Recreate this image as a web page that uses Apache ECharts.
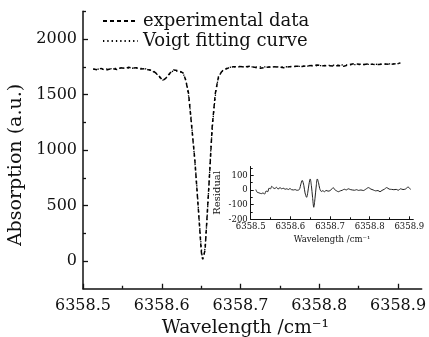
<!DOCTYPE html>
<html><head><meta charset="utf-8">
<script src="https://cdn.jsdelivr.net/npm/echarts@6/dist/echarts.min.js"></script>
<style>html,body{margin:0;padding:0;background:#fff}#c{width:429px;height:337px}</style>
</head><body><div id="c"></div>
<script>
// ---- data ----
const expWavelength = [6358.513,6358.518,6358.523,6358.528,6358.533,6358.538,6358.543,6358.548,6358.553,6358.558,6358.563,6358.568,6358.573,6358.578,6358.583,6358.588,6358.593,6358.598,6358.601,6358.605,6358.610,6358.615,6358.620,6358.624,6358.627,6358.630,6358.634,6358.638,6358.642,6358.645,6358.648,6358.650,6358.651,6358.652,6358.653,6358.655,6358.658,6358.661,6358.664,6358.668,6358.672,6358.676,6358.680,6358.685,6358.691,6358.698,6358.705,6358.712,6358.718,6358.725,6358.732,6358.740,6358.748,6358.755,6358.762,6358.770,6358.778,6358.785,6358.792,6358.797,6358.804,6358.811,6358.818,6358.825,6358.831,6358.838,6358.844,6358.851,6358.857,6358.861,6358.868,6358.875,6358.882,6358.889,6358.896,6358.903];
const expAbsorption = [1730,1722,1735,1718,1728,1733,1725,1740,1735,1745,1738,1742,1730,1733,1722,1718,1690,1655,1625,1645,1690,1720,1715,1705,1695,1640,1511,1210,910,610,309,99,39,15,20,99,459,820,1210,1511,1660,1705,1725,1740,1750,1752,1748,1754,1745,1736,1745,1750,1748,1742,1750,1755,1752,1758,1762,1766,1758,1760,1757,1762,1754,1768,1778,1772,1770,1775,1772,1770,1774,1772,1776,1783];

const fitWavelength = [6358.513,6358.530,6358.550,6358.570,6358.585,6358.595,6358.601,6358.607,6358.615,6358.622,6358.628,6358.632,6358.636,6358.640,6358.644,6358.647,6358.650,6358.652,6358.654,6358.657,6358.660,6358.663,6358.667,6358.671,6358.676,6358.682,6358.690,6358.720,6358.760,6358.800,6358.840,6358.870,6358.903];
const fitAbsorption = [1728,1730,1737,1736,1722,1675,1630,1660,1712,1710,1675,1580,1370,1060,720,420,140,25,60,330,700,1080,1420,1620,1705,1735,1748,1748,1750,1760,1768,1772,1778];

const resWavelength = [6358.513,6358.516,6358.519,6358.523,6358.527,6358.531,6358.535,6358.539,6358.543,6358.546,6358.550,6358.553,6358.557,6358.561,6358.565,6358.569,6358.574,6358.578,6358.582,6358.587,6358.591,6358.595,6358.599,6358.603,6358.608,6358.612,6358.616,6358.620,6358.624,6358.626,6358.630,6358.634,6358.637,6358.641,6358.644,6358.647,6358.650,6358.653,6358.656,6358.659,6358.662,6358.665,6358.668,6358.671,6358.674,6358.678,6358.682,6358.686,6358.690,6358.695,6358.700,6358.704,6358.708,6358.712,6358.716,6358.721,6358.726,6358.731,6358.736,6358.741,6358.746,6358.751,6358.756,6358.762,6358.767,6358.772,6358.778,6358.784,6358.790,6358.797,6358.803,6358.809,6358.815,6358.821,6358.826,6358.831,6358.837,6358.843,6358.849,6358.855,6358.861,6358.867,6358.872,6358.878,6358.884,6358.890,6358.897,6358.903];
const residual = [3,-15,-18,-22,-25,-20,-28,-7,-12,12,8,25,14,10,18,6,16,8,12,5,8,3,10,2,0,3,-2,-2,12,35,65,30,-20,-50,-15,40,75,30,-50,-118,-60,20,75,50,10,-10,-5,-12,-3,-8,-5,5,16,2,-5,-12,-6,-2,5,0,8,3,0,-2,2,-3,0,-4,5,16,6,0,-6,-4,-12,-3,5,16,6,4,2,4,-2,8,3,6,20,3];

const xTickLabels = [6358.5,6358.6,6358.7,6358.8,6358.9];
const xMinorTicks = [6358.55,6358.65,6358.75,6358.85];
const yTickLabels = [0,500,1000,1500,2000];
const yMinorTicks = [250,750,1250,1750,2250];
const insetYTickLabels = [-200,-100,0,100];
const insetYMinorTicks = [-150,-50,50,150];
const seriesNames = ['experimental data','Voigt fitting curve'];

// ---- build ----
const F = 'DejaVu Serif';
const INK = '#111';
const zip = (a,b) => a.map((v,i)=>[v,b[i]]);

function axisBase(extra){
  return Object.assign({type:'value', splitLine:{show:false}, scale:true}, extra);
}
const option = {
  animation:false,
  backgroundColor:'#fff',
  grid:[
    {left:83, top:11.25, right:7.3, bottom:48.25, outerBoundsMode:'none', containLabel:false},
    {left:250.7, top:166.5, width:162.6, height:52.8, outerBoundsMode:'none', containLabel:false}
  ],
  legend:{
    data:seriesNames, orient:'vertical', left:97, top:7,
    itemWidth:35, itemHeight:10, itemGap:2, itemTextGap:7,
    itemStyle:{opacity:0},
    textStyle:{fontFamily:F, fontSize:18, color:INK}
  },
  xAxis:[
    axisBase({gridIndex:0, position:'bottom', min:6358.5, max:6358.93,
      name:'Wavelength /cm⁻¹', nameLocation:'middle', nameGap:29,
      nameTextStyle:{fontFamily:F, fontSize:18.5, color:INK, padding:[0,14,0,0]},
      axisLine:{onZero:false, lineStyle:{color:INK, width:1.5}},
      axisTick:{inside:true, length:5, customValues:xTickLabels, lineStyle:{color:INK, width:1.3}},
      axisLabel:{customValues:xTickLabels, fontFamily:F, fontSize:16, color:INK, margin:9, formatter:v=>v.toFixed(1)}}),
    axisBase({gridIndex:0, position:'bottom', min:6358.5, max:6358.93, axisLine:{show:false, onZero:false},
      axisTick:{inside:true, length:3, customValues:xMinorTicks, lineStyle:{color:INK, width:1.3}},
      axisLabel:{show:false}}),
    axisBase({gridIndex:1, position:'bottom', min:6358.5, max:6358.91,
      name:'Wavelength /cm⁻¹', nameLocation:'middle', nameGap:16,
      nameTextStyle:{fontFamily:F, fontSize:8.5, color:INK},
      axisLine:{onZero:false, lineStyle:{color:INK, width:1}},
      axisTick:{inside:true, length:3, customValues:xTickLabels, lineStyle:{color:INK, width:1}},
      axisLabel:{customValues:xTickLabels, fontFamily:F, fontSize:8.5, color:INK, margin:3, formatter:v=>v.toFixed(1)}}),
    axisBase({gridIndex:1, position:'bottom', min:6358.5, max:6358.91, axisLine:{show:false, onZero:false},
      axisTick:{inside:true, length:2, customValues:xMinorTicks, lineStyle:{color:INK, width:1}},
      axisLabel:{show:false}})
  ],
  yAxis:[
    axisBase({gridIndex:0, position:'left', min:-250, max:2250,
      name:'Absorption (a.u.)', nameLocation:'middle', nameGap:54,
      nameTextStyle:{fontFamily:F, fontSize:19, color:INK, padding:[0,30,0,0]},
      axisLine:{onZero:false, lineStyle:{color:INK, width:1.5}},
      axisTick:{inside:true, length:5, customValues:yTickLabels, lineStyle:{color:INK, width:1.3}},
      axisLabel:{customValues:yTickLabels, fontFamily:F, fontSize:16, color:INK, margin:6, formatter:v=>String(v)}}),
    axisBase({gridIndex:0, position:'left', min:-250, max:2250, axisLine:{show:false, onZero:false},
      axisTick:{inside:true, length:3, customValues:yMinorTicks, lineStyle:{color:INK, width:1.3}},
      axisLabel:{show:false}}),
    axisBase({gridIndex:1, position:'left', min:-200, max:160,
      name:'Residual', nameLocation:'middle', nameGap:28,
      nameTextStyle:{fontFamily:F, fontSize:10, color:INK},
      axisLine:{onZero:false, lineStyle:{color:INK, width:1}},
      axisTick:{inside:true, length:3, customValues:insetYTickLabels, lineStyle:{color:INK, width:1}},
      axisLabel:{customValues:insetYTickLabels, fontFamily:F, fontSize:8.5, color:INK, margin:3, formatter:v=>String(v)}}),
    axisBase({gridIndex:1, position:'left', min:-200, max:160, axisLine:{show:false, onZero:false},
      axisTick:{inside:true, length:2, customValues:insetYMinorTicks, lineStyle:{color:INK, width:1}},
      axisLabel:{show:false}})
  ],
  series:[
    {name:seriesNames[0], type:'line', xAxisIndex:0, yAxisIndex:0, symbol:'none', smooth:false,
      data:zip(expWavelength, expAbsorption),
      lineStyle:{color:'#000', width:1.5, type:[4,3]}, itemStyle:{color:'#000'}},
    {name:seriesNames[1], type:'line', xAxisIndex:0, yAxisIndex:0, symbol:'none', smooth:0.3,
      data:zip(fitWavelength, fitAbsorption),
      lineStyle:{color:'#000', width:1.3, type:[1.3,3]}, itemStyle:{color:'#000'}},
    {name:'residual', type:'line', xAxisIndex:2, yAxisIndex:2, symbol:'none', smooth:0.3,
      data:zip(resWavelength, residual),
      lineStyle:{color:'#222', width:1}}
  ]
};
const chart = echarts.init(document.getElementById('c'), null, {renderer:'canvas'});
chart.setOption(option);
</script></body></html>
